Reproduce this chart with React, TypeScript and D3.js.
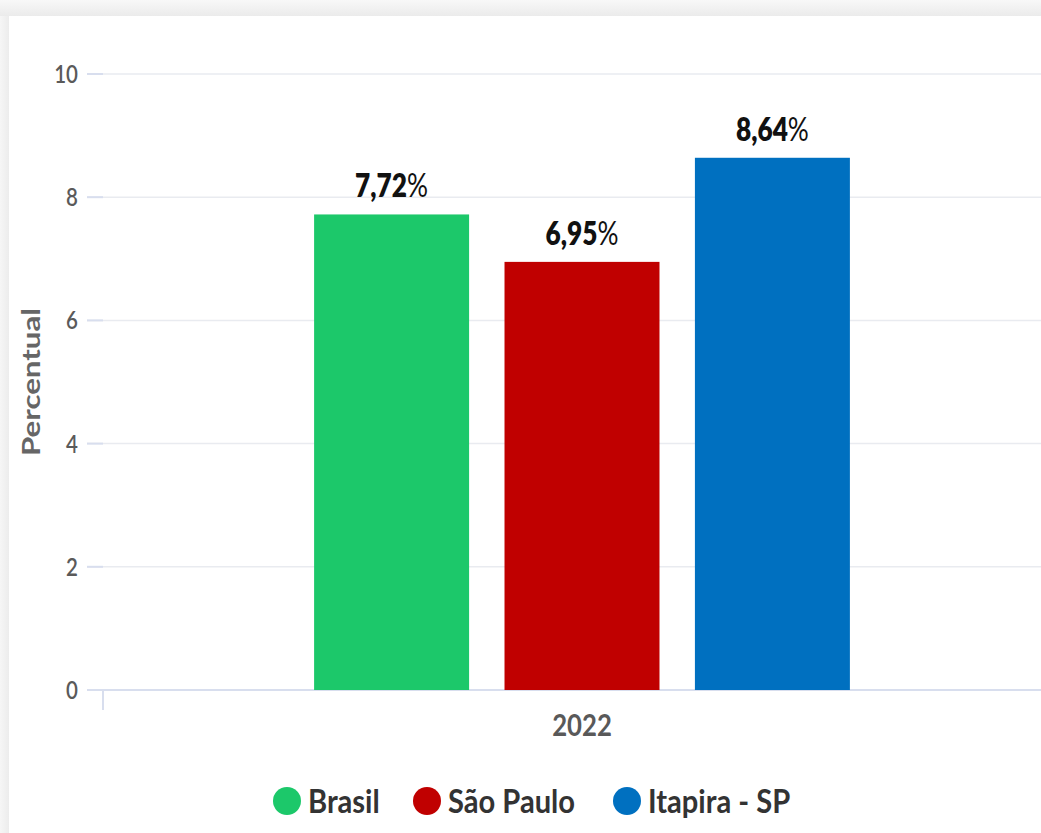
import React from "react";
import * as d3 from "d3";

const categories = ["2022"];
const seriesNames = ["Brasil", "São Paulo", "Itapira - SP"];
const seriesValues = [7.72, 6.95, 8.64];
const seriesColors = ["#1cc86a", "#c00000", "#0070c0"];
const yTicks = [0, 2, 4, 6, 8, 10];

const W = 1041;
const H = 833;
const plotLeft = 103;
const plotRight = 1061;
const plotTop = 74;
const plotBottom = 690;
const FONT = "Lato, 'Open Sans', sans-serif";

type TProps = {
  x: number;
  y: number;
  fs: number;
  sx: number;
  anchor?: "start" | "middle" | "end";
  weight?: number;
  fill?: string;
  children: React.ReactNode;
};

function T({ x, y, fs, sx, anchor = "start", weight = 400, fill = "#333", children }: TProps) {
  return (
    <text
      transform={`translate(${x},${y}) scale(${sx},1)`}
      textAnchor={anchor}
      fontSize={fs}
      fontWeight={weight}
      fill={fill}
    >
      {children}
    </text>
  );
}

export default function App() {
  const y = d3.scaleLinear().domain([0, 10]).range([plotBottom, plotTop]);
  const x0 = d3
    .scaleBand()
    .domain(categories)
    .range([plotLeft, plotRight])
    .paddingInner(0)
    .paddingOuter(0.394);
  const x1 = d3
    .scaleBand()
    .domain(seriesNames)
    .range([0, x0.bandwidth()])
    .paddingInner(0.186)
    .paddingOuter(0);

  const legendX = [287, 427, 627];

  return (
    <svg
      width={W}
      height={H}
      style={{ position: "absolute", left: 0, top: 0, display: "block" }}
      fontFamily={FONT}
    >
      <defs>
        <linearGradient id="topg" x1="0" x2="0" y1="0" y2="1">
          <stop offset="0" stopColor="#f8f8f8" />
          <stop offset="1" stopColor="#ebebeb" />
        </linearGradient>
        <linearGradient id="leftg" x1="0" x2="1" y1="0" y2="0">
          <stop offset="0" stopColor="#f6f6f6" />
          <stop offset="1" stopColor="#ececec" />
        </linearGradient>
      </defs>
      <rect x={0} y={0} width={W} height={H} fill="#f3f3f3" />
      <rect x={0} y={0} width={W} height={16} fill="url(#topg)" />
      <rect x={0} y={16} width={9} height={H - 16} fill="url(#leftg)" />
      <rect x={9} y={16} width={W - 9} height={H - 16} fill="#ffffff" />

      {/* grid lines */}
      {yTicks.map((t) => (
        <g key={t}>
          <line
            x1={87}
            x2={W}
            y1={y(t)}
            y2={y(t)}
            stroke={t === 0 ? "#d8deee" : "#e9ebf0"}
            strokeWidth={t === 0 ? 2 : 1.5}
          />
          <line x1={87} x2={103} y1={y(t)} y2={y(t)} stroke="#d8deee" strokeWidth={2} />
          <T x={78} y={y(t) + 9} fs={25} sx={0.82} anchor="end" weight={600} fill="#5a5a5a">
            {t}
          </T>
        </g>
      ))}
      <line x1={103} x2={103} y1={plotBottom} y2={plotBottom + 20} stroke="#d8deee" strokeWidth={2} />

      {/* y axis title */}
      <text
        transform={`translate(40, ${(plotTop + plotBottom) / 2}) rotate(-90) scale(1.25,1)`}
        textAnchor="middle"
        fontSize={25}
        fontWeight={700}
        fill="#666666"
      >
        Percentual
      </text>

      {/* bars */}
      {categories.map((c) => (
        <g key={c} transform={`translate(${x0(c)},0)`}>
          {seriesNames.map((s, i) => {
            const v = seriesValues[i];
            const bx = x1(s)!;
            return (
              <g key={s}>
                <rect
                  x={bx}
                  y={y(v)}
                  width={x1.bandwidth()}
                  height={plotBottom - y(v)}
                  fill={seriesColors[i]}
                />
                <T
                  x={bx + x1.bandwidth() / 2}
                  y={y(v) - 17}
                  fs={32}
                  sx={0.82}
                  anchor="middle"
                  fill="#111111"
                >
                  <tspan fontWeight={800}>{v.toFixed(2).replace(".", ",")}</tspan>
                  <tspan fontWeight={400}>%</tspan>
                </T>
              </g>
            );
          })}
          <T x={x0.bandwidth() / 2} y={736} fs={31} sx={0.83} anchor="middle" weight={700} fill="#595959">
            {c}
          </T>
        </g>
      ))}

      {/* legend */}
      {seriesNames.map((s, i) => (
        <g key={s}>
          <circle cx={legendX[i]} cy={801} r={14} fill={seriesColors[i]} />
          <T x={legendX[i] + 21} y={813} fs={32} sx={0.91} weight={700} fill="#333333">
            {s}
          </T>
        </g>
      ))}
    </svg>
  );
}
